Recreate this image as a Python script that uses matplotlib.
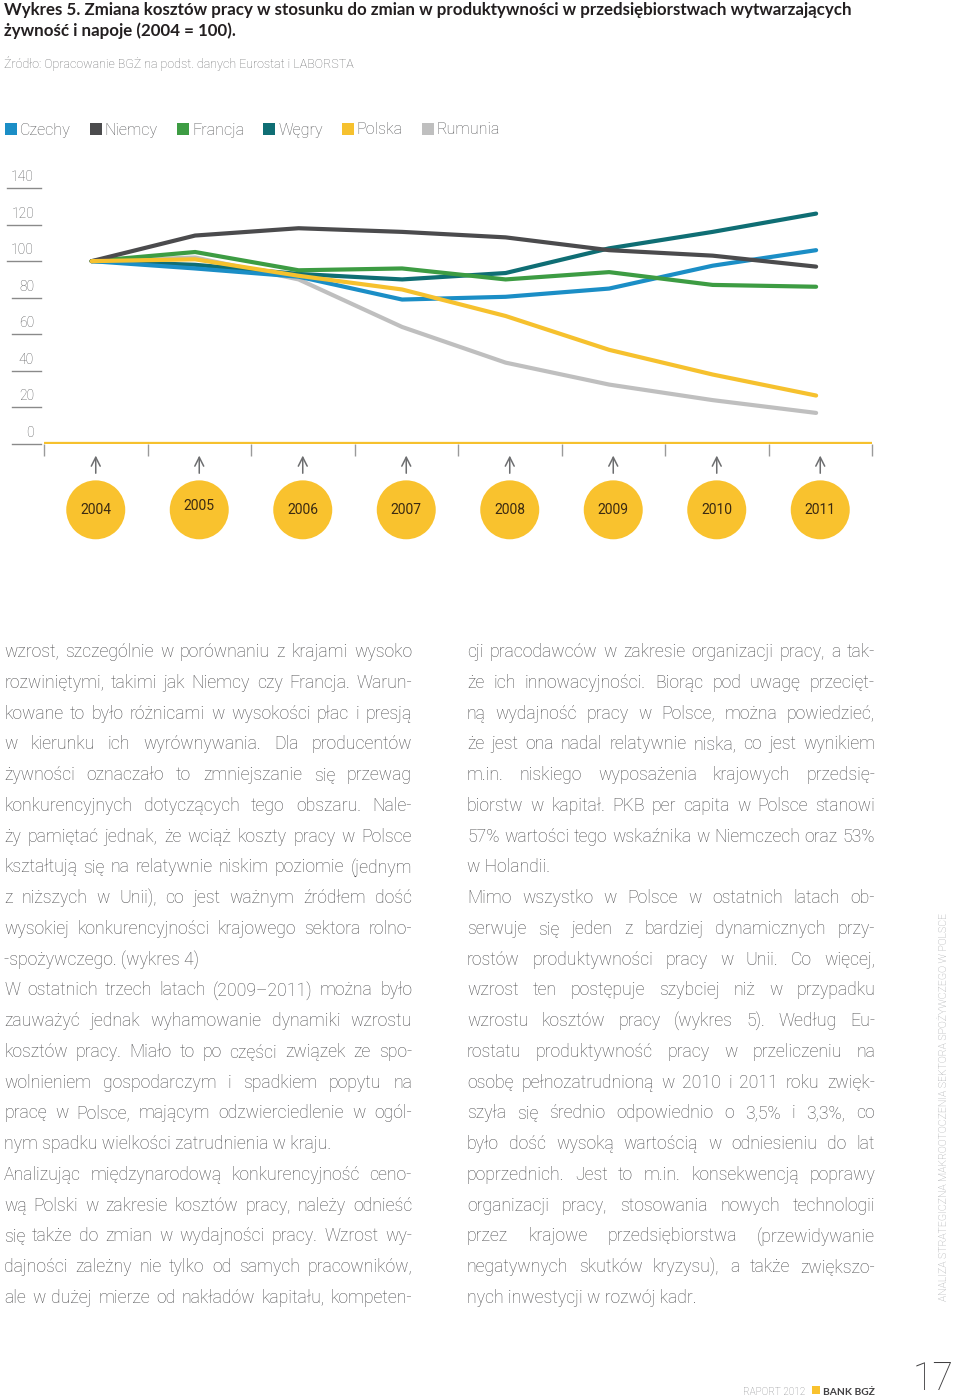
import matplotlib
matplotlib.use('Agg')
import matplotlib.pyplot as plt
import numpy as np
from matplotlib.font_manager import FontProperties
from matplotlib.patches import Ellipse, Rectangle
from matplotlib.transforms import blended_transform_factory

# --- dane wykresu (2004 = 100) ---
years = ['2004', '2005', '2006', '2007', '2008', '2009', '2010', '2011']
czechy = [100, 96, 91.5, 79, 80.5, 85, 97.5, 106]
niemcy = [100, 114, 118, 116, 113, 106, 103, 97]
francja = [100, 105, 95, 96, 90, 94, 87, 86]
wegry = [100, 98, 93, 90, 93.5, 107, 116, 126]
polska = [100, 101, 92, 84.5, 70, 51.5, 38, 26.5]
rumunia = [100, 102, 90, 64, 44.5, 32.5, 24, 17]

series_names = ['Czechy', 'Niemcy', 'Francja', 'Węgry', 'Polska', 'Rumunia']
series_values = [czechy, niemcy, francja, wegry, polska, rumunia]
series_colors = ['#1b8ec6', '#4b4b4d', '#3d9c43', '#0f6e74', '#f6c12e', '#bfbfbf']
draw_order = [5, 3, 0, 2, 1, 4]  # rumunia na spodzie, polska na wierzchu
y_ticks = [0, 20, 40, 60, 80, 100, 120, 140]

title_lines = ['Wykres 5. Zmiana kosztów pracy w stosunku do zmian w produktywności w przedsiębiorstwach wytwarzających',
               'żywność i napoje (2004 = 100).']
source_text = 'Źródło: Opracowanie BGŻ na podst. danych Eurostat i LABORSTA'

left_lines = [
    'wzrost, szczególnie w porównaniu z krajami wysoko',
    'rozwiniętymi, takimi jak Niemcy czy Francja. Warun-',
    'kowane to było różnicami w wysokości płac i presją',
    'w kierunku ich wyrównywania. Dla producentów',
    'żywności oznaczało to zmniejszanie się przewag',
    'konkurencyjnych dotyczących tego obszaru. Nale-',
    'ży pamiętać jednak, że wciąż koszty pracy w Polsce',
    'kształtują się na relatywnie niskim poziomie (jednym',
    'z niższych w Unii), co jest ważnym źródłem dość',
    'wysokiej konkurencyjności krajowego sektora rolno-',
    '-spożywczego. (wykres 4)',
    'W ostatnich trzech latach (2009–2011) można było',
    'zauważyć jednak wyhamowanie dynamiki wzrostu',
    'kosztów pracy. Miało to po części związek ze spo-',
    'wolnieniem gospodarczym i spadkiem popytu na',
    'pracę w Polsce, mającym odzwierciedlenie w ogól-',
    'nym spadku wielkości zatrudnienia w kraju.',
    'Analizując międzynarodową konkurencyjność ceno-',
    'wą Polski w zakresie kosztów pracy, należy odnieść',
    'się także do zmian w wydajności pracy.  Wzrost wy-',
    'dajności zależny nie tylko od samych pracowników,',
    'ale w dużej mierze od nakładów kapitału, kompeten-',
]
left_para_end = {10, 16}

right_lines = [
    'cji pracodawców w zakresie organizacji pracy, a tak-',
    'że ich innowacyjności. Biorąc pod uwagę przecięt-',
    'ną wydajność pracy w Polsce, można powiedzieć,',
    'że jest ona nadal relatywnie niska, co jest wynikiem',
    'm.in. niskiego wyposażenia krajowych przedsię-',
    'biorstw w kapitał. PKB per capita w Polsce stanowi',
    '57% wartości tego wskaźnika w Niemczech oraz 53%',
    'w Holandii.',
    'Mimo wszystko w Polsce w ostatnich latach ob-',
    'serwuje się jeden z bardziej dynamicznych przy-',
    'rostów produktywności pracy w Unii. Co więcej,',
    'wzrost ten postępuje szybciej niż w przypadku',
    'wzrostu kosztów pracy (wykres 5). Według Eu-',
    'rostatu produktywność pracy w przeliczeniu na',
    'osobę pełnozatrudnioną w 2010 i 2011 roku zwięk-',
    'szyła się średnio odpowiednio o 3,5% i 3,3%, co',
    'było dość wysoką wartością w odniesieniu do lat',
    'poprzednich. Jest to m.in. konsekwencją poprawy',
    'organizacji pracy, stosowania nowych technologii',
    'przez krajowe przedsiębiorstwa (przewidywanie',
    'negatywnych skutków kryzysu), a także zwiększo-',
    'nych inwestycji w rozwój kadr.',
]
right_para_end = {7, 21}

side_text = 'ANALIZA STRATEGICZNA MAKROOTOCZENIA SEKTORA SPOŻYWCZEGO W POLSCE'

W, H = 960, 1399
fig = plt.figure(figsize=(W / 100, H / 100), dpi=100)
fig.patch.set_facecolor('white')

# strona w pikselach (y w dół)
pg = fig.add_axes([0, 0, 1, 1])
pg.set_xlim(0, W)
pg.set_ylim(H, 0)
pg.axis('off')

rend = fig.canvas.get_renderer()
FAM = ['Roboto', 'DejaVu Sans']
FAM_B = ['Lato', 'DejaVu Sans']


def tw(s, fp):
    w, h, d = rend.get_text_width_height_descent(s, fp, ismath=False)
    return w


def fitted(text, width, weight='light', family=FAM):
    fp = FontProperties(family=family, weight=weight, size=10)
    fp.set_size(10 * width / tw(text, fp))
    return fp


def put_line(text, x0, x1, yb, fp, color, justify):
    words = text.split()
    if not justify or len(words) < 2:
        pg.text(x0, yb, text, fontproperties=fp, color=color, ha='left', va='baseline')
        return
    widths = [tw(w_, fp) for w_ in words]
    gap = (x1 - x0 - sum(widths)) / (len(words) - 1)
    x = x0
    for w_, wd in zip(words, widths):
        pg.text(x, yb, w_, fontproperties=fp, color=color, ha='left', va='baseline')
        x += wd + gap


# --- tytul i zrodlo ---
fp_title = fitted(title_lines[0], 849, weight='bold', family=FAM_B)
for i, t in enumerate(title_lines):
    pg.text(4, 15 + 21 * i, t, fontproperties=fp_title, color='#231f20', va='baseline')
fp_src = fitted(source_text, 351)
pg.text(4, 68, source_text, fontproperties=fp_src, color='#6d6e70', va='baseline')

# --- legenda ---
fp_leg = fitted('Rumunia', 63)
x = 5
for name, col in zip(series_names, series_colors):
    pg.add_patch(Rectangle((x, 123), 12, 12, facecolor=col, edgecolor='none'))
    pg.text(x + 15, 134.5, name, fontproperties=fp_leg, color='#58595b', va='baseline')
    x = x + 15 + tw(name, fp_leg) + 19

# --- wykres ---
ax = fig.add_axes([44 / W, 1 - 444 / H, 828 / W, 256 / H])
ax.set_xlim(-0.5, len(years) - 0.5)
ax.set_ylim(0, 140)
ax.patch.set_alpha(0)
ax.axis('off')
xs = np.arange(len(years))

for k in draw_order:
    ax.plot(xs - 0.04, series_values[k], color=series_colors[k], lw=3.0,
            solid_capstyle='round', solid_joinstyle='round', clip_on=False, zorder=3)

ax.axhline(0, color='#f6c12e', lw=3.8, zorder=2)
ax.vlines(np.arange(len(years) + 1) - 0.5, -6.5, 0, color='#9a9a9a', lw=1, clip_on=False)

# etykiety osi Y z kreskami po lewej
tr = blended_transform_factory(pg.transData, ax.transData)
fp_y = FontProperties(family=FAM, weight='light', size=10)
for v in y_ticks:
    lab = str(v)
    ax.plot([7 if len(lab) == 3 else 12, 41], [v, v], color='#8a8a8a', lw=1, transform=tr, clip_on=False)
    ax.text(34, v + 6, lab, fontproperties=fp_y, color='#58595b', ha='right', va='center',
            transform=tr, clip_on=False)

# strzalki i kola z latami
fp_yr = fitted('2004', 31, weight='normal')
for i, yr in enumerate(years):
    ax.annotate('', xy=(i, -4.8), xytext=(i, -17.5),
                arrowprops=dict(arrowstyle='->', color='#6d6e70', lw=1.1, mutation_scale=16),
                annotation_clip=False)
    ax.add_patch(Ellipse((i, -36), 59 / 103.5, 59 / 1.83, facecolor='#f9c22e',
                         edgecolor='none', clip_on=False))
    ax.text(i, -36 + (2 if yr == '2005' else 0), yr, fontproperties=fp_yr, color='#3b2a12',
            ha='center', va='center', clip_on=False)

# --- tekst w dwoch kolumnach: rozmiar tak, by najdluzszy wiersz justowany miescil sie w kolumnie ---
fp_body = FontProperties(family=FAM, weight='light', size=10)
widest = max(tw(t, fp_body) for lines, ends in [(left_lines, left_para_end), (right_lines, right_para_end)]
             for i, t in enumerate(lines) if i not in ends)
fp_body.set_size(10 * 405 / widest)
for lines, x0, ends in [(left_lines, 4, left_para_end), (right_lines, 467, right_para_end)]:
    for i, t in enumerate(lines):
        put_line(t, x0, x0 + 408, 657 + 30.76 * i, fp_body, '#4d4d4f', i not in ends)

# --- tekst boczny i stopka ---
fp_side = fitted(side_text, 390)
pg.text(944, 1107, side_text, fontproperties=fp_side, color='#9d9fa2', rotation=90,
        ha='center', va='center')

fp_rap = fitted('RAPORT 2012', 62)
pg.text(743, 1395, 'RAPORT 2012', fontproperties=fp_rap, color='#808285', va='baseline')
pg.add_patch(Rectangle((812, 1386), 8, 8, facecolor='#f9c22e', edgecolor='none'))
fp_bank = fitted('BANK BGŻ', 52, weight='bold', family=FAM_B)
pg.text(823, 1395, 'BANK BGŻ', fontproperties=fp_bank, color='#414042', va='baseline')
fp_num = FontProperties(family=FAM, weight='light', size=27)
pg.text(954, 1398, '17', fontproperties=fp_num, color='#414042', ha='right', va='bottom')

fig.savefig('out.png', dpi=100, facecolor='white')
